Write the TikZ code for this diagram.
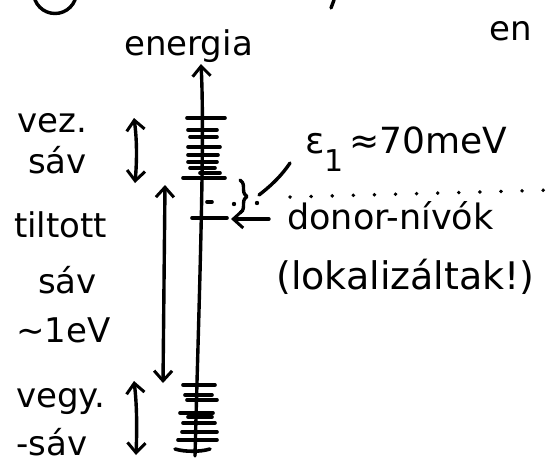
\documentclass[tikz,border=0pt]{standalone}
\usepackage{fontspec}
\setmainfont{DejaVu Sans}
\usetikzlibrary{arrows.meta,decorations.pathreplacing}
\begin{document}
\begin{tikzpicture}[x=1pt,y=-1pt,
  ink/.style={line width=3.4pt, line cap=round, line join=round},
  lvl/.style={line width=3.6pt, line cap=round},
  barb/.tip={Straight Barb[length=10pt,width=18pt,line width=3pt]},
  lab/.style={inner sep=0pt, anchor=base west, font=\fontsize{34}{34}\selectfont},
  labbig/.style={lab, font=\fontsize{38}{38}\selectfont}]
\useasboundingbox (0,0) rectangle (557,472);

% fragments at the top edge
\draw[ink] (55,-8) circle[radius=21.5];
\draw[ink] (334,0) -- (331,8);
\node[lab] (topE) at (489,40) {en};

% energy axis
\coordinate (axB) at (195,456);
\coordinate (axT) at (201,64);
\draw[ink, -barb] (axB) .. controls (199,300) and (205,140) .. (axT);
\node[lab] (energia) at (124,55) {energia};

% conduction band levels
\foreach \y/\a/\b in {118/187/225, 130/188/217, 137/190/217, 147/188/220,
                      155/188/218, 162/188/217, 168/190/215, 173/200/220, 178/183/225}
  \draw[lvl] (\a,\y) -- (\b,\y);
% donor levels
\draw[lvl] (207,202) -- (212,202);
\draw[lvl] (192,218) -- (227,218);
% valence band levels
\foreach \y/\a/\b in {385/183/215, 395/185/212, 400/187/217, 413/180/213,
                      417/188/212, 423/183/215, 432/182/217, 440/178/217}
  \draw[lvl] (\a,\y) -- (\b,\y);
\draw[lvl] (175,449) .. controls (185,452) and (200,452) .. (210,449);

% band-width arrows
\coordinate (vezT) at (134,118);
\coordinate (vezB) at (135,183);
\draw[ink, barb-barb] (vezT) .. controls (137,140) and (137,160) .. (vezB);
\coordinate (tilT) at (165,185);
\coordinate (tilB) at (163,383);
\draw[ink, barb-barb] (tilT) -- (tilB);
\coordinate (vegT) at (134,381);
\coordinate (vegB) at (136,455);
\draw[ink, barb-barb] (vegT) .. controls (137,405) and (137,430) .. (vegB);

% left labels
\node[lab] (vez) at (17,132) {vez.};
\node[lab] (sav1) at (28,173) {sáv};
\node[lab] (tiltott) at (14,237) {tiltott};
\node[lab] (sav2) at (38,293) {sáv};
\node[lab] (ev) at (16,342) {∼1eV};
\node[lab] (vegy) at (16,407) {vegy.};
\node[lab] (sav3) at (16,455) {-sáv};

% epsilon brace and pointer
\coordinate (brT) at (240,180);
\coordinate (brB) at (240,213);
\draw[ink, decorate, decoration={brace, amplitude=7pt}] (brT) -- (brB);
\node[lab, font=\fontsize{36}{36}\selectfont] (eps) at (305,153) {ε\raisebox{-0.5em}{\fontsize{30}{30}\selectfont 1}\,≈70meV};
\coordinate (epsP) at (290,163);
\coordinate (epsQ) at (259,195);
\draw[ink] (epsP) .. controls (280,178) and (268,188) .. (epsQ);
\fill (234,204) circle[radius=2.2pt];
\fill (257,203) circle[radius=2.2pt];

% dotted line at conduction band edge
\coordinate (dotA) at (290,197);
\coordinate (dotB) at (554,190);
\draw[line width=3.8pt, line cap=round, dash pattern=on 0.1pt off 21pt] (dotA) -- (dotB);

% donor label and arrow
\node[lab, font=\fontsize{35}{35}\selectfont] (donor) at (287,229) {donor-nívók};
\node[labbig] (lok) at (276,289) {(lokalizáltak!)};
\coordinate (donArr) at (269,219);
\coordinate (donTip) at (231,219);
\draw[ink, -barb] (donArr) -- (donTip);
\end{tikzpicture}
\end{document}
